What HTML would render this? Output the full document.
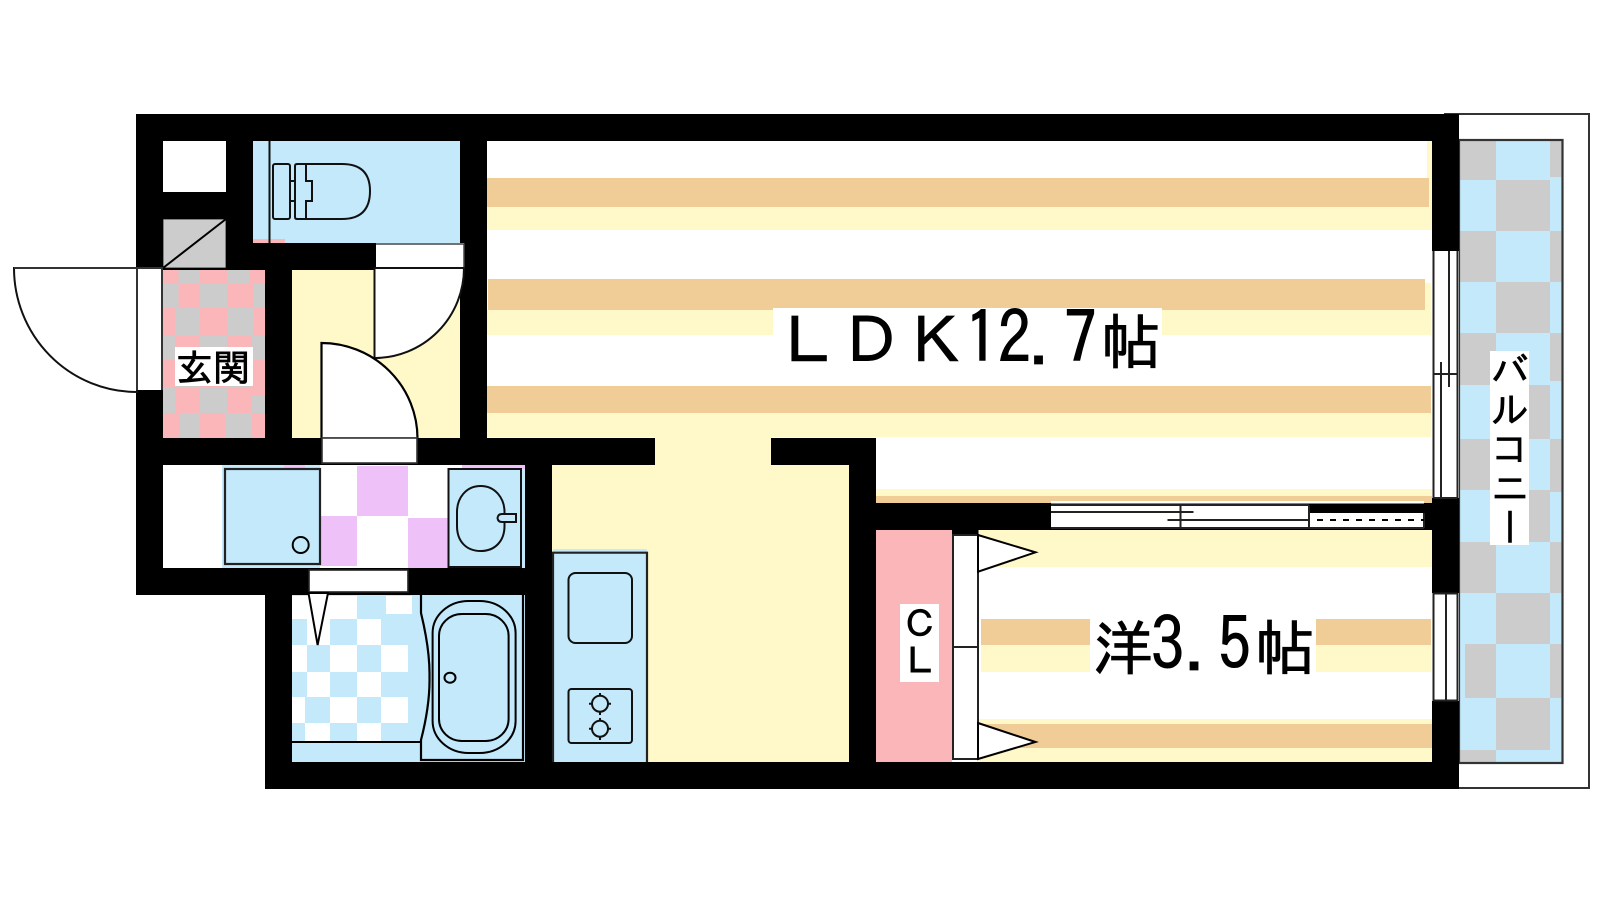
<!DOCTYPE html>
<html lang="ja"><head><meta charset="utf-8"><title>間取り図</title>
<style>
html,body{margin:0;padding:0;background:#fff;width:1600px;height:900px;overflow:hidden}
svg{position:absolute;left:0;top:0}
text{font-family:"IPAGothic","Noto Sans CJK JP",sans-serif;fill:#000;stroke:#000;stroke-width:.8px}
#bal{position:absolute;left:1490px;top:351px;width:39px;height:194px;background:#fff;writing-mode:vertical-rl;font:38px/39px "IPAGothic","Noto Sans CJK JP",sans-serif;letter-spacing:1px;color:#000;text-align:left;white-space:nowrap;-webkit-text-stroke:.6px #000}
</style></head><body>
<svg width="1600" height="900" viewBox="0 0 1600 900" xmlns="http://www.w3.org/2000/svg">
<!-- balcony -->
<path d="M1444 114H1589V788H1459" fill="#fff" stroke="#333" stroke-width="2"/>
<rect x="1459" y="141" width="103" height="622" fill="#c3e9fb"/>
<g fill="#cccccc">
<rect x="1459" y="141" width="37" height="39"/><rect x="1550" y="141" width="12" height="36"/>
<rect x="1496" y="180" width="54" height="51"/>
<rect x="1459" y="231" width="37" height="51"/><rect x="1550" y="231" width="12" height="51"/>
<rect x="1496" y="282" width="54" height="51"/>
<rect x="1459" y="333" width="37" height="52"/><rect x="1550" y="333" width="12" height="48"/>
<rect x="1496" y="385" width="54" height="54"/>
<rect x="1459" y="439" width="37" height="51"/><rect x="1550" y="439" width="12" height="53"/>
<rect x="1496" y="490" width="54" height="52"/>
<rect x="1459" y="542" width="37" height="51"/><rect x="1550" y="542" width="12" height="51"/>
<rect x="1496" y="593" width="54" height="51"/>
<rect x="1465" y="644" width="31" height="54"/><rect x="1550" y="644" width="12" height="54"/>
<rect x="1496" y="698" width="54" height="52"/>
<rect x="1459" y="750" width="37" height="13"/>
</g>
<rect x="1459" y="140" width="103.500" height="623" fill="none" stroke="#333" stroke-width="2.200"/>

<!-- LDK floor -->
<g>
<rect x="487" y="178" width="942" height="29" fill="#f0cc96"/><rect x="487" y="207" width="945" height="23" fill="#fff8c8"/>
<rect x="1427" y="141" width="5" height="89" fill="#fff8c8"/><rect x="487" y="178" width="942" height="29" fill="#f0cc96"/>
<rect x="488" y="279" width="937" height="31" fill="#f0cc96"/><rect x="487" y="310" width="944" height="25" fill="#fff8c8"/><rect x="1425" y="283" width="6" height="27" fill="#fff8c8"/>
<rect x="487" y="386" width="944" height="27" fill="#f0cc96"/><rect x="487" y="413" width="944" height="24" fill="#fff8c8"/>
<rect x="655" y="437" width="116" height="28" fill="#fff8c8"/>
<rect x="552" y="465" width="297" height="297" fill="#fff8c8"/>
<rect x="876" y="489" width="556" height="7" fill="#fff8c8"/><rect x="876" y="496" width="556" height="7" fill="#f0cc96"/>
</g>
<!-- room west -->
<rect x="978" y="530" width="454" height="37" fill="#fff8c8"/>
<rect x="981" y="619" width="450" height="26" fill="#f0cc96"/><rect x="981" y="645" width="450" height="27" fill="#fff8c8"/>
<rect x="978" y="719" width="454" height="43" fill="#fff8c8"/><rect x="978" y="724" width="454" height="24" fill="#f0cc96"/>
<rect x="876" y="530" width="76" height="232" fill="#fab6b8"/>

<!-- toilet room -->
<rect x="253" y="141" width="207" height="102" fill="#c3e9fb"/>
<rect x="253" y="239" width="32" height="4" fill="#fab6b8"/>
<!-- hallway -->
<rect x="292" y="270" width="168" height="168" fill="#fff8c8"/>
<!-- grey box -->
<rect x="163" y="219" width="63" height="49" fill="#ccc" stroke="#333" stroke-width="1"/>
<path d="M163 268L226 219" stroke="#000" stroke-width="2"/>
<!-- genkan -->
<rect x="163" y="270" width="102" height="168" fill="#fab6b8"/>
<g fill="#ccc">
<rect x="178.500" y="270" width="21.500" height="13"/><rect x="227" y="270" width="22.500" height="13"/>
<rect x="163" y="283" width="15.500" height="25"/><rect x="200" y="283" width="27" height="25"/><rect x="254" y="283" width="11" height="25"/>
<rect x="175" y="308" width="25" height="27"/><rect x="227" y="308" width="27" height="27"/>
<rect x="163" y="335" width="12" height="25"/><rect x="200" y="335" width="27" height="25"/><rect x="252" y="335" width="13" height="25"/>
<rect x="175" y="360" width="25" height="27"/><rect x="227" y="360" width="25" height="27"/>
<rect x="163" y="387" width="12" height="26"/><rect x="200" y="387" width="27" height="26"/><rect x="252" y="395" width="13" height="18"/>
<rect x="180" y="413" width="20" height="25"/><rect x="225" y="413" width="27" height="25"/>
</g>
<!-- washroom -->
<rect x="222" y="465" width="98" height="103" fill="#c3e9fb"/>
<rect x="284" y="465" width="21" height="4" fill="#eec2f8"/>
<rect x="357" y="466" width="51" height="50" fill="#eec2f8"/>
<rect x="316" y="516" width="41" height="50" fill="#eec2f8"/>
<rect x="408" y="518" width="40" height="50" fill="#eec2f8"/>
<rect x="462" y="465" width="63" height="4" fill="#eec2f8"/>
<rect x="448" y="469" width="77" height="99" fill="#c3e9fb"/>
<!-- bathroom -->
<rect x="292" y="595" width="233" height="167" fill="#c3e9fb"/>
<g fill="#fff">
<rect x="292" y="596" width="65" height="23"/><rect x="386" y="596" width="26" height="18"/>
<rect x="307" y="619" width="23" height="26"/><rect x="357" y="619" width="24" height="26"/>
<rect x="292" y="645" width="15" height="27"/><rect x="330" y="645" width="27" height="27"/><rect x="381" y="645" width="27" height="27"/>
<rect x="307" y="672" width="23" height="25"/><rect x="357" y="672" width="24" height="25"/>
<rect x="292" y="697" width="13" height="26"/><rect x="330" y="697" width="27" height="26"/><rect x="381" y="697" width="27" height="26"/>
<rect x="305" y="723" width="25" height="18"/><rect x="357" y="723" width="24" height="18"/>
</g>
<!-- kitchen -->
<rect x="553" y="549" width="94" height="213" fill="#c3e9fb"/>

<!-- walls -->
<g fill="#000">
<rect x="136" y="114" width="1323" height="27"/>
<rect x="136" y="114" width="27" height="481"/>
<rect x="163" y="192" width="63" height="27"/>
<rect x="226" y="141" width="27" height="129"/>
<rect x="226" y="243" width="150" height="27"/>
<rect x="163" y="268" width="63" height="2"/>
<rect x="265" y="270" width="27" height="168"/>
<rect x="460" y="141" width="27" height="297"/>
<rect x="136" y="438" width="519" height="27"/>
<rect x="771" y="438" width="105" height="27"/>
<rect x="849" y="438" width="27" height="351"/>
<rect x="525" y="465" width="27" height="324"/>
<rect x="136" y="568" width="389" height="27"/>
<rect x="265" y="595" width="27" height="194"/>
<rect x="265" y="762" width="1194" height="27"/>
<rect x="876" y="503" width="556" height="27"/>
<rect x="1432" y="114" width="27" height="137"/>
<rect x="1432" y="498" width="27" height="95"/>
<rect x="1432" y="701" width="27" height="88"/>
<rect x="952" y="530" width="26.500" height="5"/>
</g>

<!-- exterior door -->
<rect x="136" y="268" width="27" height="122" fill="#fff"/>
<path d="M137 268H14A123 124 0 0 0 137 392Z" fill="#fff" stroke="#111" stroke-width="2"/>
<path d="M14 268H163M137 268V390M162 268V390" fill="none" stroke="#333" stroke-width="2"/>
<!-- upper hall door -->
<rect x="376" y="243" width="88" height="25" fill="#fff"/>
<path d="M376 244H464V268H376" fill="none" stroke="#444" stroke-width="1.500"/>
<path d="M374.500 268H464A89.500 90 0 0 1 374.500 358Z" fill="#fff" stroke="#111" stroke-width="2"/>
<!-- lower hall door -->
<path d="M321.500 438.500V343A96 95.500 0 0 1 417.500 438.500Z" fill="#fff" stroke="#000" stroke-width="2.200"/>
<rect x="322" y="438" width="95" height="25" fill="#fff" stroke="#333" stroke-width="1.600"/>
<!-- washroom door -->
<rect x="309" y="570" width="99" height="22" fill="#fff" stroke="#222" stroke-width="1.600"/>
<path d="M308.500 593H328L317.600 645Z" fill="#fff" stroke="#000" stroke-width="2"/>

<!-- toilet -->
<g fill="none" stroke="#111" stroke-width="2">
<path d="M269.500 141V243"/>
<rect x="273" y="164" width="17" height="55" rx="2"/>
<rect x="290" y="181" width="5" height="20"/>
<path d="M295 166Q295 164 297 164H342Q370 164 370 191Q370 219 342 219H297Q295 219 295 217Z"/>
<path d="M306 164V181H312V201H306V219"/>
</g>
<!-- washing machine -->
<rect x="225" y="469" width="95" height="95" fill="#c3e9fb" stroke="#222" stroke-width="2.200"/>
<circle cx="300.700" cy="545" r="8" fill="none" stroke="#000" stroke-width="2"/>
<!-- sink -->
<g fill="none" stroke="#111" stroke-width="2">
<rect x="448.500" y="469" width="72.500" height="98"/>
<path d="M480.700 486C495 486 504.500 498 504.500 512V526C504.500 541 495 551 480.700 551C466 551 457 541 457 526V512C457 498 466 486 480.700 486Z"/>
<path d="M516 514H502Q498 514 497.500 518Q498 522 502 522H516Z" fill="#c3e9fb"/>
</g>
<!-- tub -->
<g fill="none" stroke="#000" stroke-width="2">
<path d="M292 742H421"/>
<path d="M421 595V613Q430 650 429.500 677Q430 705 421 740V760H523V595" stroke-width="2.200"/>
<rect x="432.600" y="601" width="83" height="152" rx="36" ry="32"/>
<rect x="439" y="614" width="69.600" height="127" rx="23" ry="22"/>
<ellipse cx="450" cy="677.700" rx="5.500" ry="5"/>
</g>
<!-- counter -->
<g fill="none" stroke="#111" stroke-width="2">
<path d="M553 762V552.700H647V762" stroke="#222" stroke-width="2.200"/>
<rect x="568.500" y="573" width="63.500" height="70" rx="7"/>
<rect x="568.500" y="689" width="63.500" height="54" rx="3"/>
<circle cx="600" cy="703.700" r="8"/><circle cx="600" cy="728.700" r="8"/>
<path d="M600 693V696M600 711V715M589 703.700H592M608 703.700H611M600 718V721M600 736V740M589 728.700H592M608 728.700H611"/>
</g>
<!-- closet door -->
<rect x="953" y="535" width="25" height="224" fill="#fff" stroke="#222" stroke-width="2"/>
<path d="M953 647H978" stroke="#222" stroke-width="2"/>
<path d="M978 535L1035.500 552.300L978 571.700Z" fill="#fff" stroke="#000" stroke-width="2"/>
<path d="M978 723L1035.500 742L978 759Z" fill="#fff" stroke="#000" stroke-width="2"/>
<!-- sliding door -->
<rect x="1051" y="501" width="373" height="2.500" fill="#fff"/>
<rect x="1051" y="505" width="258" height="23" fill="#fff"/>
<rect x="1310" y="513" width="114" height="15" fill="#fff"/>
<g fill="none" stroke="#222" stroke-width="2">
<path d="M1051 505H1309M1051 528H1424M1051 512H1193.500M1167.500 520H1309M1180.500 505V528M1309 505V528M1424 513V528"/>
<path d="M1317 520H1424" stroke="#000" stroke-dasharray="6 7"/>
</g>
<!-- east windows -->
<rect x="1433" y="251" width="26" height="247" fill="#fff"/>
<g fill="none" stroke="#222" stroke-width="2">
<path d="M1433.500 251V498M1457.500 251V498M1449 251V387M1441 362V498M1433.500 374H1457.500M1433.500 498H1457.500"/>
</g>
<rect x="1433" y="593" width="26" height="108" fill="#fff"/>
<path d="M1433.500 593V701M1446 593V701M1457.500 593V701M1433.500 593.500H1457.500M1433.500 700.500H1457.500" fill="none" stroke="#222" stroke-width="2"/>

<!-- labels -->
<rect x="175" y="347" width="78" height="39" fill="#fff"/>
<text x="176" y="381" font-size="37">玄関</text>
<rect x="900" y="604" width="39" height="78" fill="#fff"/>
<text x="902" y="637" font-size="36">Ｃ</text>
<text x="902" y="674" font-size="36">Ｌ</text>
<rect x="773" y="308" width="389" height="60" fill="#fff"/>
<text y="364" font-size="64" x="776 839 904">ＬＤＫ</text>
<text transform="translate(965 364) scale(1.1 1.2)" font-size="60">1</text>
<text transform="translate(998 364) scale(1.1 1.2)" font-size="60">2</text>
<text x="1029" y="364" font-size="60">.</text>
<text transform="translate(1064 364) scale(1.1 1.2)" font-size="60">7</text>
<text x="1101" y="364" font-size="60">帖</text>
<rect x="1090" y="619" width="226" height="53" fill="#fff"/>
<text x="1093" y="670" font-size="60">洋</text>
<text transform="translate(1151 670) scale(1.1 1.2)" font-size="60">3</text>
<text x="1184.500" y="670" font-size="60">.</text>
<text transform="translate(1218 670) scale(1.1 1.2)" font-size="60">5</text>
<text x="1255" y="670" font-size="60">帖</text>
</svg>
<div id="bal">バルコニー</div>
</body></html>
